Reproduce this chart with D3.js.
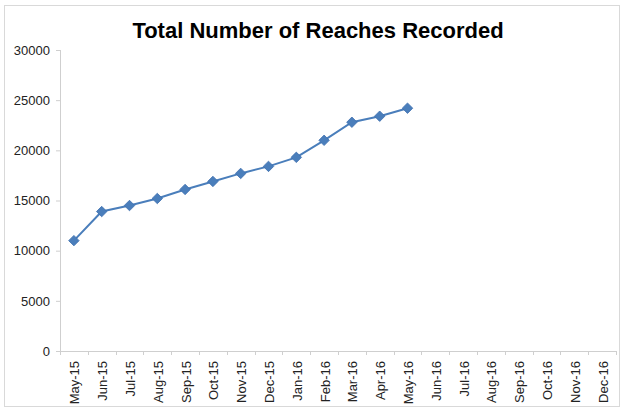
<!DOCTYPE html>
<html>
<head>
<meta charset="utf-8">
<script src="https://cdn.jsdelivr.net/npm/d3@7"></script>
<style>
html,body{margin:0;padding:0;background:#fff;}
svg{display:block;font-family:"Liberation Sans",Arial,sans-serif;}
</style>
</head>
<body>
<svg id="chart" width="621" height="410"></svg>
<script>
const categories = ["May-15","Jun-15","Jul-15","Aug-15","Sep-15","Oct-15","Nov-15","Dec-15","Jan-16","Feb-16","Mar-16","Apr-16","May-16","Jun-16","Jul-16","Aug-16","Sep-16","Oct-16","Nov-16","Dec-16"];
const reaches = [11000,13900,14500,15200,16100,16900,17700,18400,19300,21000,22800,23400,24200];
const yTicks = [0,5000,10000,15000,20000,25000,30000];
const title = "Total Number of Reaches Recorded";

const svg = d3.select("#chart");

svg.append("rect").attr("x",4.5).attr("y",5.5).attr("width",615).attr("height",401)
  .attr("fill","none").attr("stroke","#d9d9d9").attr("stroke-width",1);

const x = d3.scaleBand().domain(categories).range([60, 616]).padding(0);
const y = d3.scaleLinear().domain([0,30000]).range([351, 50]);

svg.append("text").attr("x",318).attr("y",38).attr("text-anchor","middle")
  .attr("font-size",22).attr("font-weight","bold").attr("fill","#000").text(title);

// y axis
const yAxis = svg.append("g").attr("transform","translate(60,0)")
  .call(d3.axisLeft(y).tickValues(yTicks).tickSize(4).tickPadding(6).tickFormat(d3.format("d")));
yAxis.select(".domain").attr("stroke","#cfcfcf").attr("d","M0.5,50V351.5");
yAxis.selectAll(".tick line").attr("stroke","#cfcfcf");
yAxis.selectAll(".tick text").attr("font-size",13).attr("fill","#222").attr("font-family","Liberation Sans, Arial, sans-serif");

// x axis
const xAxis = svg.append("g").attr("transform","translate(0,351)")
  .call(d3.axisBottom(x).tickSize(0).tickPadding(0));
xAxis.select(".domain").attr("stroke","#cfcfcf").attr("d","M60,0.5H616");
xAxis.selectAll(".tick text").attr("font-size",13).attr("fill","#222")
  .attr("font-family","Liberation Sans, Arial, sans-serif")
  .attr("text-anchor","end").attr("dy","0.35em")
  .attr("transform","translate(1,10) rotate(-90)");
// boundary tick marks
xAxis.selectAll(".bt").data(categories.concat(["end"])).enter().append("line")
  .attr("class","bt")
  .attr("x1",(d,i)=>Math.round(60+i*x.step())+0.5)
  .attr("x2",(d,i)=>Math.round(60+i*x.step())+0.5)
  .attr("y1",0).attr("y2",4).attr("stroke","#cfcfcf");

const cx = (d,i)=>x(categories[i])+x.bandwidth()/2;
const line = d3.line().x((d,i)=>cx(d,i)).y(d=>y(d));
svg.append("path").datum(reaches).attr("d",line).attr("fill","none")
  .attr("stroke","#4a7ebb").attr("stroke-width",2);

const sym = d3.symbol().type(d3.symbolDiamond2).size(70);
svg.selectAll(".pt").data(reaches).enter().append("path").attr("class","pt")
  .attr("d",sym).attr("transform",(d,i)=>`translate(${cx(d,i)},${y(d)})`)
  .attr("fill","#4a7ebb").attr("stroke","#3d6fae").attr("stroke-width",0.8);
</script>
</body>
</html>
